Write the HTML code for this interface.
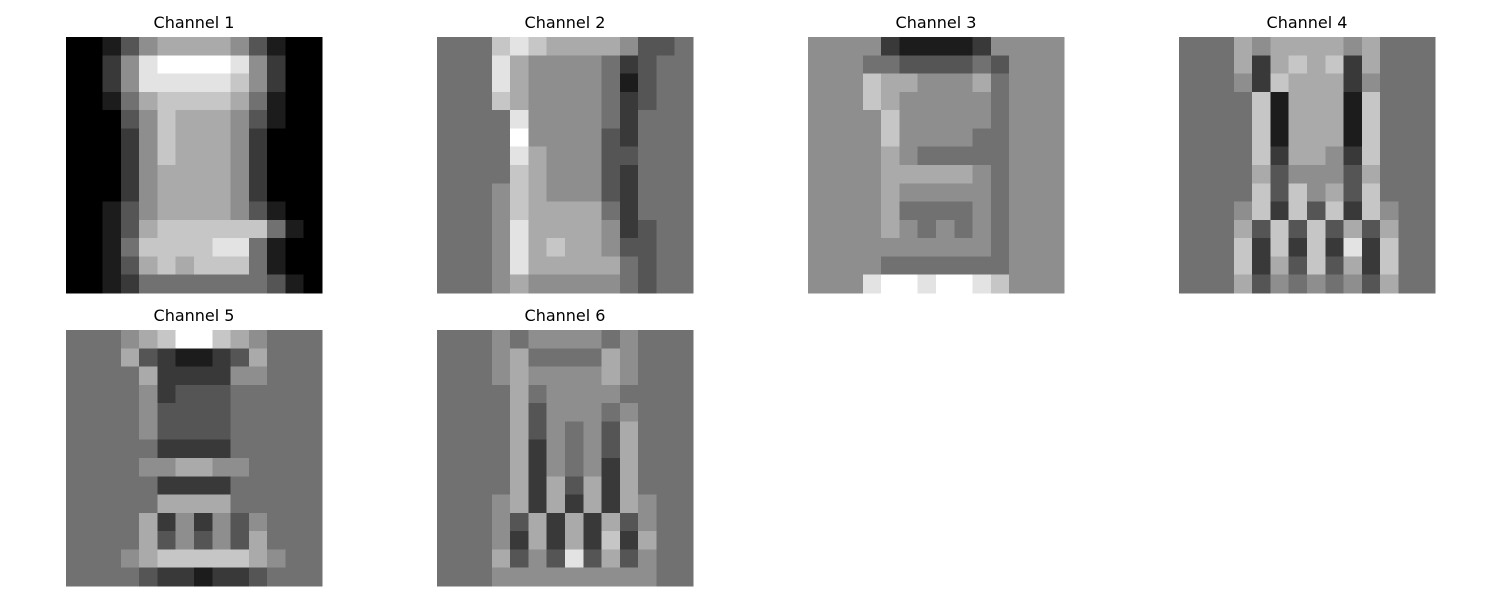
<!DOCTYPE html>
<html><head><meta charset="utf-8"><style>
body{margin:0;background:#fff;width:1500px;height:600px;overflow:hidden}
svg text{font-family:"DejaVu Sans","Liberation Sans",sans-serif;font-size:16px;fill:#000}
</style></head><body>
<svg id="fig" width="1500" height="600" xmlns="http://www.w3.org/2000/svg" shape-rendering="crispEdges"></svg>
<script>
const channelTitles=["Channel 1","Channel 2","Channel 3","Channel 4","Channel 5","Channel 6"];
const ch1=["00135666653100","00258999985200","00258888875200","00146777764100","00035766653100","00025766652000","00025766652000","00025666652000","00025666652000","00135666653100","00136777777410","00147777884100","00136767774100","00124444444310"];
const ch2=["44478766665334","44486555542344","44486555541344","44476555542344","44448555542444","44449555532444","44448655533444","44447655532444","44457655532444","44457666642444","44458666652344","44458676653344","44458666664344","44456555554344"];
const ch3=["55552111125555","55544333343555","55576655564555","55576555554555","55557555554555","55557555544555","55556544444555","55556666654555","55556555554555","55556444454555","55556545454555","55555555554555","55554444444555","55589989987555"];
const ch4=["44465666656444","44462676726444","44452766625444","44447166617444","44447166617444","44447166617444","44447266527444","44446355536444","44447375637444","44457273727544","44463737363644","44472727282744","44472637362744","44463545453644"];
const ch5=["44456799765444","44463211236444","44446222255444","44445233344444","44445333344444","44445333344444","44444222244444","44445566554444","44444222244444","44444666644444","44446252535444","44446353536444","44456777776544","44443221223444"];
const ch6=["44454555545444","44456444465444","44456555565444","44446455554444","44446355545444","44446354536444","44446254536444","44446254526444","44446263626444","44456262626544","44453626263544","44452626272644","44463538363544","44455555555544"];
const channels=[ch1,ch2,ch3,ch4,ch5,ch6];
const svg=document.getElementById('fig');
const NS="http://www.w3.org/2000/svg";
const px=[66,437,808,1179], py=[37,330], S=256;
channels.forEach((ch,i)=>{
  const ox=px[i%4], oy=py[Math.floor(i/4)];
  const g=document.createElementNS(NS,'g');
  
  
  const n=ch.length, c=S/n;
  ch.forEach((row,r)=>{
    for(let k=0;k<row.length;k++){
      const v=Math.round(parseInt(row[k])*255/9);
      const rc=document.createElementNS(NS,'rect');
      rc.setAttribute('x',(ox+k*c).toFixed(2));
      rc.setAttribute('y',(oy+r*c).toFixed(2));
      rc.setAttribute('width',(c+0.6).toFixed(2));
      rc.setAttribute('height',(c+0.6).toFixed(2));
      rc.setAttribute('fill',`rgb(${v},${v},${v})`);
      
      
      g.appendChild(rc);
    }
  });
  svg.appendChild(g);
  const t=document.createElementNS(NS,'text');
  t.setAttribute('x',ox+S/2);
  t.setAttribute('y',oy-9);
  t.setAttribute('text-anchor','middle');
  t.textContent=channelTitles[i];
  
  
  svg.appendChild(t);
});
</script>
</body></html>
